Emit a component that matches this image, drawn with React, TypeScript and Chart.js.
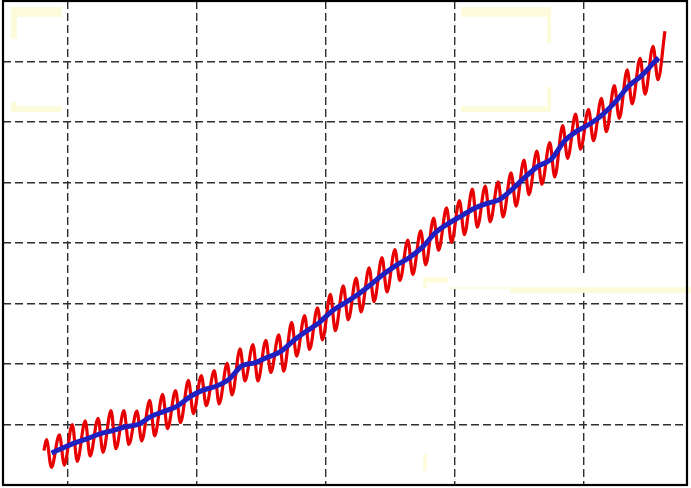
import React, { useEffect, useRef } from "react";
import { Chart, registerables } from "chart.js";

Chart.register(...registerables);

// ---- Data (Mauna Loa CO2, ppm) ----
const FIRST_YEAR = 1958;
// seasonal maximum (around May) of each year 1958..2005
const peakPPM = [
  317.5, 318.3, 320.0, 320.6, 321.0, 322.3, 322.3, 322.2, 324.0, 325.0,
  325.6, 327.3, 328.1, 328.9, 330.1, 332.5, 333.2, 333.9, 334.8, 336.9,
  338.0, 339.3, 341.5, 342.9, 344.2, 345.9, 347.6, 348.9, 350.5, 352.0,
  354.1, 355.8, 357.0, 358.9, 359.4, 360.1, 361.6, 363.7, 365.2, 366.6,
  369.4, 371.3, 372.1, 373.9, 376.0, 378.6, 380.5, 382.5,
];
// seasonal minimum (around late Sep / Oct) of each year 1958..2005
const troughPPM = [
  312.9, 313.3, 313.9, 314.8, 315.4, 316.0, 316.7, 317.3, 318.1, 319.3,
  320.3, 321.8, 323.1, 323.4, 324.9, 327.2, 327.2, 328.6, 328.8, 331.3,
  332.4, 334.0, 335.5, 337.3, 338.6, 340.3, 341.9, 343.8, 344.8, 346.4,
  348.8, 350.1, 351.4, 352.6, 353.5, 354.3, 356.1, 358.0, 359.7, 360.9,
  364.0, 365.5, 366.9, 368.4, 370.6, 373.0, 374.6, 377.0,
];
const PEAK_TIME = 0.37; // fraction of year
const TROUGH_TIME = 0.75;
const redStart = [1958.17, 315.7];
const redEnd = [2006.29, 385.0];

// annual means 1959..2005 (smoothed blue curve)
const BLUE_FIRST_YEAR = 1959;
const annualMeanPPM = [
  315.98, 316.91, 317.64, 318.45, 318.99, 319.62, 320.04, 321.37, 322.18, 323.05,
  324.62, 325.68, 326.32, 327.46, 329.68, 330.19, 331.12, 332.03, 333.84, 335.41,
  336.84, 338.76, 340.12, 341.48, 343.15, 344.87, 346.35, 347.61, 349.31, 351.69,
  353.2, 354.45, 355.7, 356.54, 357.21, 358.96, 360.97, 362.74, 363.88, 366.84,
  368.54, 369.71, 371.32, 373.45, 375.98, 377.7, 379.98,
];
const blueStart = [1958.76, 315.3];
const blueEnd = [2005.8, 380.6];

const xGridYears = [1960, 1970, 1980, 1990, 2000];
const yGridPPM = [320, 330, 340, 350, 360, 370, 380];
const X_MIN = 1955;
const X_MAX = 2008;
const Y_MIN = 310;
const Y_MAX = 390;

function buildRed() {
  const pts: { x: number; y: number }[] = [{ x: redStart[0], y: redStart[1] }];
  for (let i = 0; i < peakPPM.length; i++) {
    const yr = FIRST_YEAR + i;
    pts.push({ x: yr + PEAK_TIME, y: peakPPM[i] });
    pts.push({ x: yr + TROUGH_TIME, y: troughPPM[i] });
  }
  pts.push({ x: redEnd[0], y: redEnd[1] });
  return pts;
}

function buildBlue() {
  const pts: { x: number; y: number }[] = [{ x: blueStart[0], y: blueStart[1] }];
  annualMeanPPM.forEach((v, i) => pts.push({ x: BLUE_FIRST_YEAR + i + 0.5, y: v }));
  pts.push({ x: blueEnd[0], y: blueEnd[1] });
  return pts;
}

const decorPlugin = {
  id: "decor",
  afterDraw(chart: any) {
    const ctx = chart.ctx;
    const a = chart.chartArea;
    ctx.save();
    // cleared strip
    ctx.fillStyle = "#ffffff";
    ctx.fillRect(449, 273, a.right - 449 - 1, 14);
    // faint yellow remnants
    ctx.fillStyle = "#fcfcdc";
    // top-left bracket
    ctx.fillRect(11, 7, 51, 10);
    ctx.fillRect(11, 17, 6, 22);
    ctx.fillRect(11, 102, 6, 4);
    ctx.fillRect(11, 106, 51, 6);
    // top-right bracket
    ctx.fillRect(461, 7, 90, 10);
    ctx.fillRect(547, 17, 4, 26);
    ctx.fillRect(547, 87, 4, 19);
    ctx.fillRect(461, 106, 90, 6);
    // lower right
    ctx.fillRect(423, 277, 25, 6);
    ctx.fillRect(423, 283, 4, 5);
    ctx.fillRect(448, 287, 62, 2);
    ctx.fillRect(510, 287, 181, 6);
    ctx.fillRect(423, 454, 4, 17);
    // frame
    ctx.strokeStyle = "#000";
    ctx.lineWidth = 2.2;
    ctx.strokeRect(a.left, a.top, a.right - a.left, a.bottom - a.top);
    ctx.restore();
  },
};

export default function App() {
  const ref = useRef<HTMLCanvasElement | null>(null);
  useEffect(() => {
    if (!ref.current) return;
    const gridOpts = {
      color: "#2e2e2e",
      lineWidth: 1.4,
      drawTicks: false,
    };
    const chart = new Chart(ref.current, {
      type: "line",
      data: {
        datasets: [
          {
            label: "annual",
            data: buildBlue(),
            borderColor: "#2020c0",
            borderWidth: 5,
            pointRadius: 0,
            cubicInterpolationMode: "monotone",
            fill: false,
          },
          {
            label: "monthly",
            data: buildRed(),
            borderColor: "#e80000",
            borderWidth: 3.2,
            pointRadius: 0,
            cubicInterpolationMode: "monotone",
            fill: false,
          },
        ],
      },
      options: {
        animation: false,
        responsive: false,
        events: [],
        layout: { padding: { left: 3, top: 1, right: 4, bottom: 3 } },
        plugins: { legend: { display: false }, tooltip: { enabled: false } },
        scales: {
          x: {
            type: "linear",
            min: X_MIN,
            max: X_MAX,
            grid: gridOpts,
            border: { display: false, dash: [8, 4] },
            ticks: { display: false },
            afterBuildTicks: (s: any) => {
              s.ticks = xGridYears.map((v) => ({ value: v }));
            },
          },
          y: {
            type: "linear",
            min: Y_MIN,
            max: Y_MAX,
            grid: gridOpts,
            border: { display: false, dash: [8, 4] },
            ticks: { display: false },
            afterBuildTicks: (s: any) => {
              s.ticks = yGridPPM.map((v) => ({ value: v }));
            },
          },
        },
      },
      plugins: [decorPlugin],
    } as any);
    return () => chart.destroy();
  }, []);
  return (
    <div style={{ position: "fixed", left: 0, top: 0, width: 691, height: 488, background: "#fff" }}>
      <canvas ref={ref} width={691} height={488} style={{ display: "block" }} />
    </div>
  );
}
